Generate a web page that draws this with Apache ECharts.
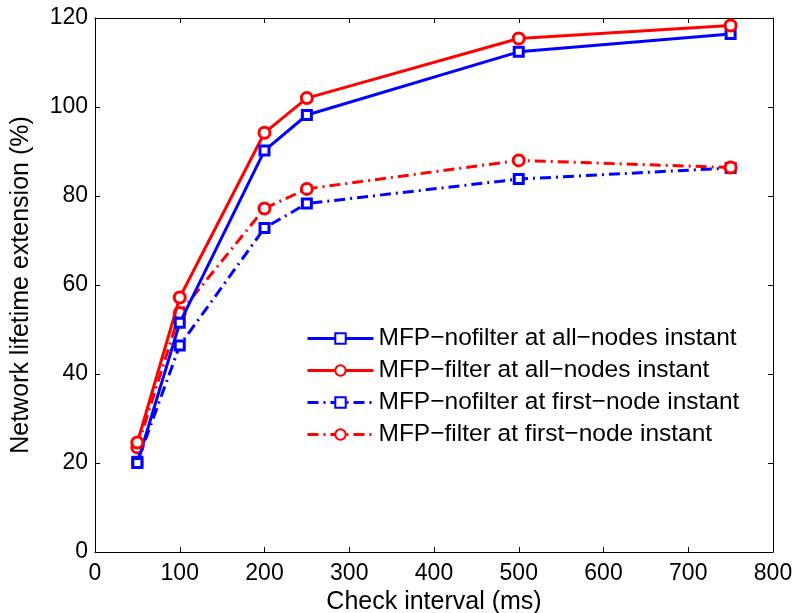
<!DOCTYPE html>
<html><head><meta charset="utf-8">
<script src="https://cdn.jsdelivr.net/npm/echarts@6/dist/echarts.min.js"></script>
<style>html,body{margin:0;padding:0;background:#fff}#c{width:795px;height:613px}</style>
</head><body><div id="c"></div>
<script>
const xValues = [50, 100, 200, 250, 500, 750];
const nofilterAll = [20.0, 51.5, 90.2, 98.2, 112.4, 116.4];
const filterAll = [24.6, 57.2, 94.2, 102.0, 115.4, 118.3];
const nofilterFirst = [20.3, 46.4, 72.8, 78.3, 83.8, 86.3];
const filterFirst = [23.5, 53.7, 77.2, 81.6, 88.0, 86.4];
const seriesNames = ['MFP\u2212nofilter at all\u2212nodes instant','MFP\u2212filter at all\u2212nodes instant','MFP\u2212nofilter at first\u2212node instant','MFP\u2212filter at first\u2212node instant'];

const font = 'Liberation Sans, Arial, Helvetica, sans-serif';
function mk(name, vals, color, symbol, dashed, size){
  return {name, type:'line', data: xValues.map((x,i)=>[x, vals[i]]),
    symbol, symbolSize:size, showAllSymbol:true,
    lineStyle:{color, width:3, type: dashed ? [11,5,2,5] : 'solid'},
    itemStyle:{color:'#fff', borderColor:color, borderWidth:3},
    emphasis:{disabled:true}, animation:false, z: dashed?2:3};
}
const chart = echarts.init(document.getElementById('c'));
const axisLine = {show:true,onZero:false,lineStyle:{color:'#000',width:1}};
const tick = {inside:true,length:5,lineStyle:{color:'#000'}};
chart.setOption({
  animation:false,
  grid:{left:95,right:22,top:18,bottom:61,containLabel:false,outerBoundsMode:'none'},
  xAxis:[
    {type:'value',min:0,max:800,interval:100,position:'bottom',axisLine,axisTick:tick,splitLine:{show:false},
      axisLabel:{color:'#000',fontSize:23,fontFamily:font,margin:10},
      name:'Check interval (ms)',nameLocation:'middle',nameGap:35,
      nameTextStyle:{color:'#000',fontSize:25,fontFamily:font}},
    {type:'value',min:0,max:800,interval:100,position:'top',axisLine,axisTick:tick,splitLine:{show:false},
      axisLabel:{show:false}}
  ],
  yAxis:[
    {type:'value',min:0,max:120,interval:20,position:'left',axisLine,axisTick:tick,splitLine:{show:false},
      axisLabel:{color:'#000',fontSize:23,fontFamily:font,margin:7},
      name:'Network lifetime extension (%)',nameLocation:'middle',nameGap:61,
      nameTextStyle:{color:'#000',fontSize:25,fontFamily:font}},
    {type:'value',min:0,max:120,interval:20,position:'right',axisLine,axisTick:tick,splitLine:{show:false},
      axisLabel:{show:false}}
  ],
  legend:{orient:'vertical',left:306,top:326,itemWidth:66,itemHeight:13,itemGap:7,padding:0,
    lineStyle:{width:3},
    textStyle:{color:'#000',fontSize:24.5,lineHeight:25,fontFamily:font},
    data:seriesNames, selectedMode:false},
  series:[
    mk(seriesNames[0], nofilterAll, '#0000ff', 'rect', false, 9),
    mk(seriesNames[1], filterAll, '#ff0000', 'circle', false, 11),
    mk(seriesNames[2], nofilterFirst, '#0000ff', 'rect', true, 9),
    mk(seriesNames[3], filterFirst, '#ff0000', 'circle', true, 11)
  ]
});
</script></body></html>
